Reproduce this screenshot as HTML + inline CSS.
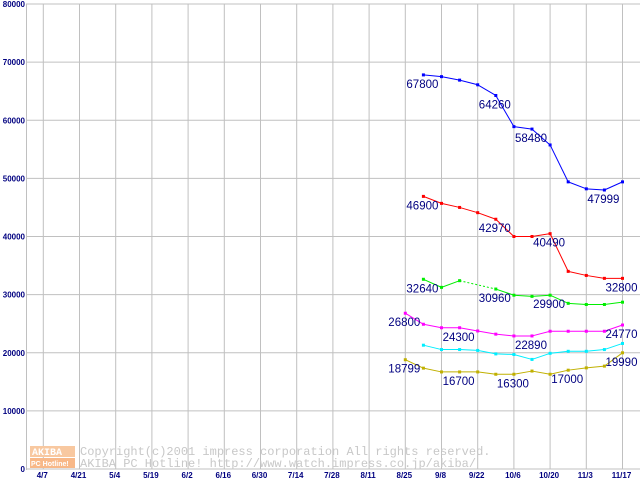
<!DOCTYPE html>
<html><head><meta charset="utf-8"><style>
html,body{margin:0;padding:0;background:#fff;}
svg{display:block;}
text{font-family:"Liberation Sans",sans-serif;}
</style></head><body>
<svg id="chart" width="640" height="480" viewBox="0 0 640 480" xmlns="http://www.w3.org/2000/svg">
<g id="grid"></g>
<g id="wm">
<rect x="30" y="446" width="45" height="11" fill="#f8c8a0"/>
<text x="32" y="455" font-size="10" font-weight="bold" fill="#fff" style="font-family:'Liberation Mono',monospace">AKIBA</text>
<rect x="30" y="458" width="45" height="10" fill="#f8b888"/>
<text x="31" y="466" font-size="7" font-weight="bold" fill="#fff">PC Hotline!</text>
<text x="80" y="455" font-size="12" fill="#c8c8c8" style="font-family:'Liberation Mono',monospace">Copyright(c)2001 impress corporation All rights reserved.</text>
<text x="80" y="467" font-size="12" fill="#c8c8c8" style="font-family:'Liberation Mono',monospace">AKIBA PC Hotline!  http://www.watch.impress.co.jp/akiba/</text>
</g>
<g id="series"></g>
</svg>
<script>
const xTickLabels=["4/7","4/21","5/4","5/19","6/2","6/16","6/30","7/14","7/28","8/11","8/25","9/8","9/22","10/6","10/20","11/3","11/17"];
const yTicks=[0,10000,20000,30000,40000,50000,60000,70000,80000];
// weekly index 0 = 8/25 ... 12 = 11/17 ; null = no data
const blueVals=[null,67800,67500,66900,66100,64260,58900,58480,55750,49400,48200,47999,49400];
const redVals=[null,46900,45700,45000,44100,42970,40000,40000,40490,34000,33300,32800,32800];
const greenVals=[null,32640,31250,32400,null,30960,29900,29700,29900,28500,28300,28300,28700];
const magentaVals=[26800,24900,24300,24300,23750,23200,22890,22890,23700,23700,23700,23700,24770];
const cyanVals=[null,21300,20550,20550,20400,19800,19700,18850,19900,20250,20250,20550,21600];
const oliveVals=[18799,17350,16700,16700,16700,16300,16300,16850,16300,17000,17400,17700,19990];
const blueLabels=[[1,"67800"],[5,"64260"],[7,"58480"],[11,"47999"]];
const redLabels=[[1,"46900"],[5,"42970"],[8,"40490"],[12,"32800"]];
const greenLabels=[[1,"32640"],[5,"30960"],[8,"29900"]];
const magentaLabels=[[0,"26800"],[3,"24300"],[7,"22890"],[12,"24770"]];
const cyanLabels=[];
const oliveLabels=[[0,"18799"],[3,"16700"],[6,"16300"],[9,"17000"],[12,"19990"]];

const NS="http://www.w3.org/2000/svg";
function X(i){return 43.3+i*36.2;}
function XW(w){return 43.3+10*36.2+w*18.1;}
function Y(v){return 469-v*465/80000;}
function mk(tag,attrs,parent){const e=document.createElementNS(NS,tag);for(const k in attrs)e.setAttribute(k,attrs[k]);parent.appendChild(e);return e;}
const grid=document.getElementById('grid');
yTicks.forEach(v=>{
  const l=mk('line',{x1:26,x2:640,y1:Y(v),y2:Y(v),stroke:'#c0c0c0','stroke-width':1},grid);
  
  
  const t=mk('text',{x:25,y:Y(v)+3,'text-anchor':'end','font-size':8,'font-weight':'bold',fill:'#000080'},grid);
  
  
  t.textContent=v;
});
xTickLabels.forEach((s,i)=>{
  const l=mk('line',{x1:X(i),x2:X(i),y1:4,y2:469,stroke:'#c0c0c0','stroke-width':1},grid);
  
  
  const t=mk('text',{x:X(i)-1,y:478,'text-anchor':'middle','font-size':8,'font-weight':'bold',fill:'#000080'},grid);
  
  
  t.textContent=s;
});
const ax=mk('line',{x1:26.5,x2:26.5,y1:4,y2:470,stroke:'#c0c0c0','stroke-width':1},grid);



const sg=document.getElementById('series');
function drawSeries(vals,labels,color,name){
  const g=mk('g',{},sg);
  
  
  let prev=-1;
  vals.forEach((v,i)=>{
    if(v===null)return;
    if(prev>=0){
      const l=mk('line',{x1:XW(prev),y1:Y(vals[prev]),x2:XW(i),y2:Y(v),stroke:color,'stroke-width':1},g);
      if(i-prev>1)l.setAttribute('stroke-dasharray','2,2');
      
      
    }
    prev=i;
  });
  vals.forEach((v,i)=>{
    if(v===null)return;
    const r=mk('rect',{x:XW(i)-1.5,y:Y(v)-1.5,width:3,height:3,fill:color},g);
    
    
  });
  labels.forEach(([i,s])=>{
    const t=mk('text',{x:XW(i)-1,y:Y(vals[i])+13,'text-anchor':'middle','font-size':11.5,fill:'#000080'},g);
    
    
    t.textContent=s;
  });
}
drawSeries(blueVals,blueLabels,'#0000ff','blue');
drawSeries(redVals,redLabels,'#ff0000','red');
drawSeries(greenVals,greenLabels,'#00ee00','green');
drawSeries(magentaVals,magentaLabels,'#ff00ff','magenta');
drawSeries(cyanVals,cyanLabels,'#00eeff','cyan');
drawSeries(oliveVals,oliveLabels,'#c0b000','olive');
</script>
</body></html>
